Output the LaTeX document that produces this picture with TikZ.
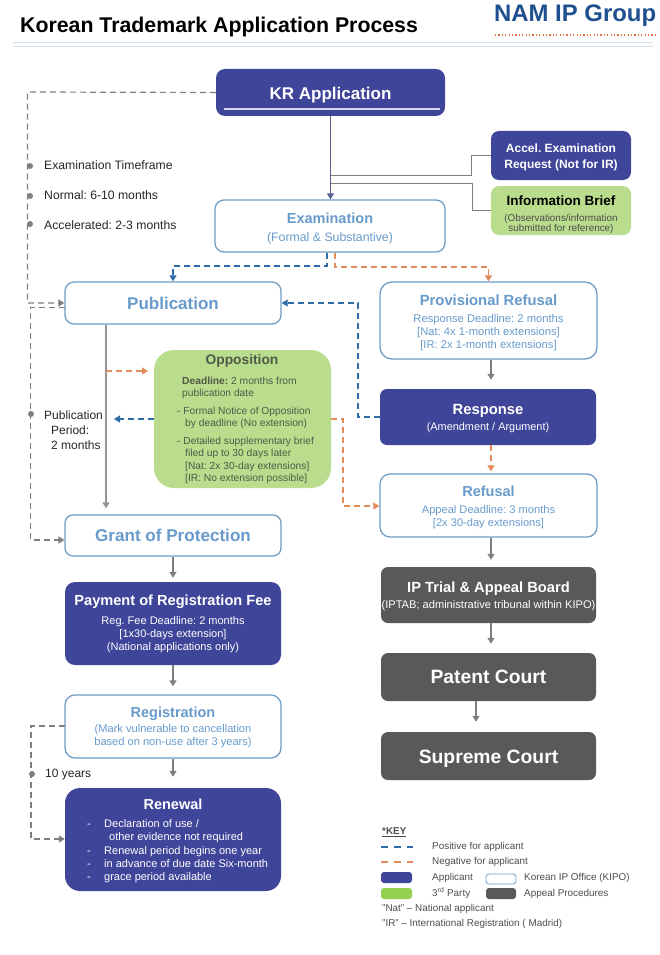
\documentclass[tikz,border=0pt]{standalone}
\usepackage{fontspec}
\setmainfont{Liberation Sans}
\usetikzlibrary{arrows.meta,calc}
\definecolor{navy}{HTML}{3F4599}
\definecolor{kipoline}{HTML}{6F9DC6}
\definecolor{kipotext}{HTML}{689BCB}
\definecolor{thirdp}{HTML}{B9DD8C}
\definecolor{keygreen}{HTML}{92D050}
\definecolor{court}{HTML}{595959}
\definecolor{posblue}{HTML}{2F6CA8}
\definecolor{negor}{HTML}{E58B5B}
\definecolor{dashgray}{HTML}{7F7F7F}
\definecolor{ruleblue}{HTML}{D3E0EA}
\definecolor{logoblue}{HTML}{1F4F8F}
\definecolor{opptext}{HTML}{4F5A48}
\newcommand\fs[2]{\fontsize{#1}{#2}\selectfont}
\newcommand\vs[1]{\rule{0pt}{#1pt}}
\frenchspacing
\tikzset{
  box/.style n args={4}{minimum width={(#3-#1)*1pt},minimum height={(#4-#2)*1pt},
    at={({(#1+#3)/2},{(#2+#4)/2})},inner sep=0pt,align=center},
  navybox/.style={fill=navy,text=white,rounded corners=9pt},
  kipobox/.style={draw=kipoline,line width=1.3pt,fill=white,text=kipotext,rounded corners=9pt},
  greenbox/.style={fill=thirdp,rounded corners=9pt},
  courtbox/.style={fill=court,text=white,rounded corners=7pt},
  tip/.style={-{Triangle[length=6pt,width=7pt]}},
  flow/.style={tip,draw=dashgray,line width=1.4pt},
  plainlink/.style={draw=dashgray,line width=1pt},
  graydash/.style={tip,draw=dashgray,line width=1.2pt,dash pattern=on 6pt off 4pt},
  bluedash/.style={tip,draw=posblue,line width=1.2pt,dash pattern=on 6pt off 4pt},
  ordash/.style={tip,draw=negor,line width=1.2pt,dash pattern=on 6pt off 4pt},
  dot/.style={circle,fill=dashgray,inner sep=0pt,minimum size=6pt},
  note/.style={anchor=west,inner sep=0pt,font=\fs{12.2}{14},text=black!85},
  keytext/.style={anchor=west,inner sep=0pt,font=\fs{9.9}{11},text=black!70},
}
\begin{document}
\begin{tikzpicture}[x=1pt,y=-1pt]
\useasboundingbox (0,0) rectangle (660,955);
% header
\node[anchor=west,inner sep=0pt,font=\fs{21.3}{24}\bfseries] (title) at (20,27) {Korean Trademark Application Process};
\node[anchor=base west,inner sep=0pt,font=\fs{23.9}{26}\bfseries,text=logoblue] (logo) at (494,22) {NAM IP Group};
\coordinate (r1a) at (13,42); \coordinate (r1b) at (653,42);
\coordinate (r2a) at (13,46); \coordinate (r2b) at (653,46);
\draw[ruleblue,line width=.8pt] (r1a) -- (r1b);
\draw[ruleblue,line width=.8pt] (r2a) -- (r2b);
\coordinate (lg1) at (495,35); \coordinate (lg2) at (658,35);
\draw[negor!80!red,line width=2pt,dash pattern=on 1.2pt off 2.2pt] (lg1) -- (lg2);
% boxes
\node[navybox,box={216}{69}{445}{116},font=\fs{17}{20}\bfseries] (kr) {\vs{18.5}KR Application};
\coordinate (krl1) at (224,109); \coordinate (krl2) at (440,109);
\draw[white!80!navy,line width=1.8pt] (krl1) -- (krl2);
\node[navybox,rounded corners=8pt,box={491}{131}{631}{180},font=\fs{12}{15.5}\bfseries] (accel) {\vs{12}Accel. Examination\\Request (Not for IR)};
\node[greenbox,rounded corners=8pt,box={491}{186}{631}{235},font=\fs{9.9}{10}] (info) {\vs{18}\fs{13.5}{15}\bfseries Information Brief\\[6pt]\color{black!70}(Observations/information\\\color{black!70}submitted for reference)};
\node[kipobox,box={215}{200}{445}{252},font=\fs{12.3}{13}] (exam) {\vs{16}\fs{14.5}{17}\bfseries Examination\\[5pt](Formal \& Substantive)};
\node[kipobox,box={65}{282}{281}{324},font=\fs{17}{20}\bfseries] (pub) {Publication};
\node[kipobox,rounded corners=12pt,box={380}{282}{597}{359},font=\fs{11.2}{13}] (prov) {\vs{16}\fs{14.8}{17}\bfseries Provisional Refusal\\[4pt]Response Deadline: 2 months\\{}[Nat: 4x 1-month extensions]\\{}[IR: 2x 1-month extensions]};
\node[greenbox,rounded corners=20pt,box={154}{350}{331}{488}] (opp) {};
\node[inner sep=0pt,font=\fs{13.8}{16}\bfseries,text=opptext] (opptitle) at (242,361) {Opposition};
\node[inner sep=0pt,anchor=north west,align=left,text=opptext,font=\fs{10.25}{12.6}] (oppbody) at (177,376.5) {%
\hspace*{5pt}\textbf{Deadline:} 2 months from\\
\hspace*{5pt}publication date\\[5pt]
- Formal Notice of Opposition\\
\hspace*{8pt}by deadline (No extension)\\[4.5pt]
- Detailed supplementary brief\\
\hspace*{8pt}filed up to 30 days later\\
\hspace*{8pt}[Nat: 2x 30-day extensions]\\
\hspace*{8pt}[IR: No extension possible]};
\node[navybox,rounded corners=7pt,box={380}{389}{596}{445},font=\fs{10.9}{13}] (resp) {\vs{14}\fs{14.8}{17}\bfseries Response\\[3pt](Amendment / Argument)};
\node[kipobox,rounded corners=10pt,box={380}{474}{597}{537},font=\fs{11.1}{13}] (refu) {\vs{14}\fs{14.5}{17}\bfseries Refusal\\[4pt]Appeal Deadline: 3 months\\{}[2x 30-day extensions]};
\node[kipobox,rounded corners=8pt,box={65}{515}{281}{556},font=\fs{17.1}{20}\bfseries] (grant) {Grant of Protection};
\node[navybox,rounded corners=10pt,box={65}{582}{281}{665},font=\fs{11}{13}] (pay) {\fs{14.6}{17}\bfseries Payment of Registration Fee\\[6pt]Reg. Fee Deadline: 2 months\\{}[1x30-days extension]\\(National applications only)};
\node[kipobox,rounded corners=10pt,box={65}{695}{281}{758},font=\fs{11.1}{13}] (reg) {\vs{13}\fs{14.5}{17}\bfseries Registration\\[2pt](Mark vulnerable to cancellation\\based on non-use after 3 years)};
\node[navybox,rounded corners=15pt,box={65}{788}{281}{891}] (ren) {};
\node[inner sep=0pt,font=\fs{14.5}{17}\bfseries,text=white] (rentitle) at (173,804) {Renewal};
\newcommand\dashitem{\makebox[17pt][l]{-}}
\node[inner sep=0pt,anchor=north west,align=left,text=white,font=\fs{11}{13.3}] (renbody) at (87,819.5) {%
\dashitem Declaration of use /\\
\hspace*{22pt}other evidence not required\\
\dashitem Renewal period begins one year\\
\dashitem in advance of due date Six-month\\
\dashitem grace period available};
\node[courtbox,box={381}{567}{596}{623},font=\fs{11.1}{13}] (iptab) {\vs{14}\fs{14.7}{17}\bfseries IP Trial \& Appeal Board\\[3pt](IPTAB; administrative tribunal within KIPO)};
\node[courtbox,box={381}{653}{596}{701},font=\fs{19.3}{22}\bfseries] (patent) {Patent Court};
\node[courtbox,box={381}{732}{596}{780},font=\fs{19.3}{22}\bfseries] (supreme) {\vs{19}Supreme Court};
% side notes
\coordinate (railA) at (27.5,92);
\coordinate (railB) at (30.5,540);
\coordinate (railC) at (31,726);
\node[dot] (d1) at (30,166) {}; \node[note] (n1) at (44,165) {Examination Timeframe};
\node[dot] (d2) at (30,196) {}; \node[note] (n2) at (44,195) {Normal: 6-10 months};
\node[dot] (d3) at (30,224) {}; \node[note] (n3) at (44,225) {Accelerated: 2-3 months};
\node[dot] (d4) at (31,414) {};
\node[note,align=left,font=\fs{12}{15}] (n4) at (44,430) {Publication\\\hspace*{7pt}Period:\\\hspace*{7pt}2 months};
\node[dot] (d5) at (32,774) {}; \node[note,font=\fs{12}{14}] (n5) at (45,775) {10 years};
% connectors
\draw[tip,draw=navy!60!gray,line width=1.4pt] (kr.south) -- (kr.south |- exam.north);
\coordinate (tapA) at (330.5,175); \coordinate (tapB) at (330.5,183);
\coordinate (kneeA) at (471,155); \coordinate (kneeB) at (472,210);
\draw[plainlink] (tapA) -| (kneeA |- accel.west) -- (accel.west);
\draw[plainlink] (tapB) -| (kneeB |- info.west) -- (info.west);
\draw[graydash] (kr.west) -- (railA) |- (pub.west);
\coordinate (pubtap) at (65,307.5);
\draw[graydash] (pubtap) -| (railB) -- (railB -| grant.west);
\coordinate (regtap) at (65,726);
\coordinate (rencut) at (31,839);
\draw[graydash] (regtap) -- (railC) -- (rencut) -- (rencut -| ren.west);
\coordinate (xb) at (327,266); \coordinate (xo) at (335,267);
\draw[bluedash] (xb |- exam.south) -- (xb) -| (pub.north);
\draw[ordash] (xo |- exam.south) -- (xo) -| (prov.north);
\coordinate (xg) at (106,371);
\draw[tip,draw=black!42,line width=1.8pt,shorten >=6pt] (xg |- pub.south) -- (xg |- grant.north);
\coordinate (xoe) at (148,371);
\draw[ordash] (xg) -- (xoe);
\coordinate (xbe) at (114,419);
\draw[bluedash] (opp.west |- xbe) -- (xbe);
\coordinate (oc1) at (343,419); \coordinate (oc2) at (343,506);
\draw[ordash] (opp.east |- oc1) -- (oc1) -- (oc2) -- (oc2 -| refu.west);
\coordinate (bc1) at (358,417); \coordinate (bc2) at (358,303);
\draw[bluedash] (resp.west |- bc1) -- (bc1) -- (bc2) -- (pub.east);
\coordinate (xr) at (491,400);
\draw[flow,shorten >=9pt] (xr |- prov.south) -- (xr |- resp.north);
\draw[ordash,shorten >=2pt] (xr |- resp.south) -- (xr |- refu.north);
\draw[flow,shorten >=7pt] (xr |- refu.south) -- (xr |- iptab.north);
\draw[flow,shorten >=9pt] (xr |- iptab.south) -- (xr |- patent.north);
\coordinate (xc) at (476,710);
\draw[flow,shorten >=10pt] (xc |- patent.south) -- (xc |- supreme.north);
\draw[flow,shorten >=4pt] (grant.south) -- (pay.north);
\draw[flow,shorten >=8pt] (pay.south) -- (reg.north);
\draw[flow,shorten >=11pt] (reg.south) -- (ren.north);
% key
\node[keytext,font=\fs{9.9}{11}\bfseries] (keyh) at (382,832) {\underline{*KEY}};
\coordinate (kb1) at (381,847); \coordinate (kb2) at (413,847);
\coordinate (ko1) at (381,862); \coordinate (ko2) at (413,862);
\draw[posblue,line width=1.6pt,dash pattern=on 7pt off 6pt] (kb1) -- (kb2);
\draw[negor,line width=1.6pt,dash pattern=on 7pt off 6pt] (ko1) -- (ko2);
\node[keytext] (k1) at (432,847) {Positive for applicant};
\node[keytext] (k2) at (432,862) {Negative for applicant};
\node[navybox,rounded corners=3pt,box={381}{872}{412}{883}] (s1) {};
\node[keytext] (k3) at (432,877.5) {Applicant};
\node[draw=kipoline,line width=.8pt,fill=white,rounded corners=3pt,box={486}{874}{516}{884}] (s2) {};
\node[keytext] (k4) at (524,878) {Korean IP Office (KIPO)};
\node[fill=keygreen,rounded corners=3pt,box={381}{888}{412}{899}] (s3) {};
\node[keytext] (k5) at (432,893) {3\textsuperscript{rd} Party};
\node[courtbox,rounded corners=3pt,box={486}{888}{516}{899}] (s4) {};
\node[keytext] (k6) at (524,893.5) {Appeal Procedures};
\node[keytext] (k7) at (382,909) {"Nat" -- National applicant};
\node[keytext] (k8) at (382,924) {"IR" -- International Registration ( Madrid)};
\end{tikzpicture}
\end{document}
